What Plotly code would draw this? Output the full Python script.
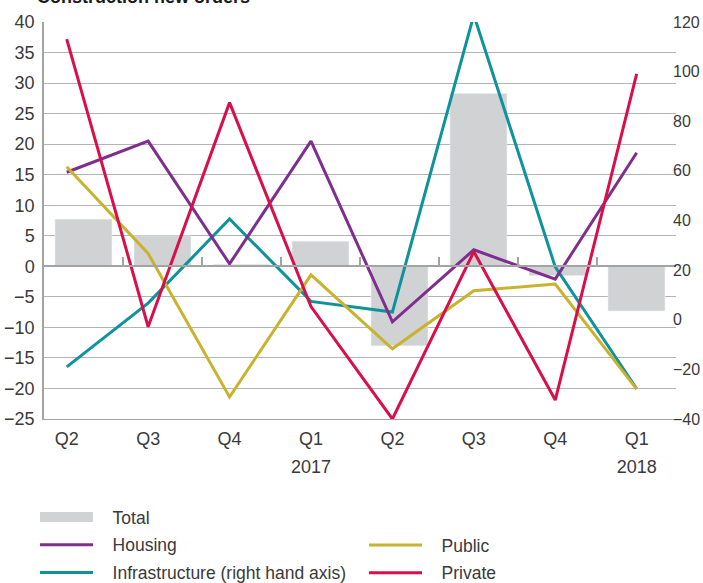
import plotly.graph_objects as go

cats = ["2016Q2", "2016Q3", "2016Q4", "2017Q1", "2017Q2", "2017Q3", "2017Q4", "2018Q1"]
quarter_labels = ["Q2", "Q3", "Q4", "Q1", "Q2", "Q3", "Q4", "Q1"]
year_cats = ["2017Q1", "2018Q1"]
year_labels = ["2017", "2018"]

total = [7.7, 5.0, 0.3, 4.1, -13.0, 28.3, -1.5, -7.3]
housing = [15.4, 20.5, 0.4, 20.5, -9.1, 2.7, -2.1, 18.6]
public = [16.3, 2.1, -21.4, -1.4, -13.5, -4.0, -2.9, -20.1]
private = [37.2, -9.9, 26.8, -6.6, -25.0, 2.4, -21.9, 31.5]
infrastructure = [-19.0, 6.7, 40.6, 7.4, 3.1, 122.8, 21.3, -27.8]

C_GRAY = "#d1d2d4"
C_PURPLE = "#7e2f8e"
C_TEAL = "#0e939c"
C_YELLOW = "#c8b22e"
C_RED = "#d90f4a"
GRID = "#b4b4b4"
AXIS = "#a3a3a3"
TXT = "#3a3a3a"
FONT = "Liberation Sans, Arial, sans-serif"
PAD = "\u00a0\u00a0\u00a0"
LFS = 17.5

fig = go.Figure()

fig.add_trace(go.Bar(x=cats, y=total, marker_color=C_GRAY, xaxis="x", yaxis="y",
                     showlegend=False, name="Total"))
# legend swatch for Total
fig.add_trace(go.Scatter(x=[None], y=[None], mode="lines", line=dict(color=C_GRAY, width=12),
                         name=PAD + "Total", xaxis="x2", yaxis="y3", legend="legend",
                         legendgroup="g1"))
fig.add_trace(go.Scatter(x=cats, y=housing, mode="lines", line=dict(color=C_PURPLE, width=3),
                         name=PAD + "Housing", xaxis="x2", yaxis="y3", legend="legend",
                         legendgroup="g2"))
fig.add_trace(go.Scatter(x=cats, y=infrastructure, mode="lines", line=dict(color=C_TEAL, width=3),
                         name=PAD + "Infrastructure (right hand axis)", xaxis="x2", yaxis="y2",
                         legend="legend", legendgroup="g3"))
fig.add_trace(go.Scatter(x=cats, y=public, mode="lines", line=dict(color=C_YELLOW, width=3),
                         name=PAD + "Public", xaxis="x2", yaxis="y3", legend="legend2",
                         legendgroup="g4"))
fig.add_trace(go.Scatter(x=cats, y=private, mode="lines", line=dict(color=C_RED, width=3),
                         name=PAD + "Private", xaxis="x2", yaxis="y3", legend="legend2",
                         legendgroup="g5"))

fig.update_layout(
    width=703, height=583,
    margin=dict(l=44, r=27, t=22, b=164, autoexpand=False),
    paper_bgcolor="white", plot_bgcolor="white",
    font=dict(family=FONT, size=18, color=TXT),
    bargap=0.28,
    xaxis=dict(type="category", categoryarray=cats, range=[-0.5, 7.5], domain=[0, 1],
               anchor="free", position=25 / 65, showline=True, linecolor=AXIS, linewidth=1.5,
               ticks="inside", tickson="boundaries", ticklen=9, tickcolor=AXIS, tickwidth=1.5,
               showticklabels=False, showgrid=False, zeroline=False),
    xaxis2=dict(type="category", categoryarray=cats, range=[-0.279, 7.483], overlaying="x",
                anchor="y", side="bottom", showgrid=False, zeroline=False, showline=True,
                linecolor=AXIS, linewidth=1, ticks="", tickvals=cats, ticktext=quarter_labels,
                ticklabelstandoff=3, tickfont=dict(size=18, color=TXT)),
    xaxis3=dict(type="category", categoryarray=cats, range=[-0.279, 7.483], overlaying="x",
                anchor="y", side="bottom", showgrid=False, zeroline=False, showline=False,
                ticks="", tickvals=year_cats, ticktext=year_labels,
                ticklabelstandoff=35, tickfont=dict(size=18, color=TXT)),
    yaxis=dict(range=[-25, 40], dtick=5, tick0=0, showgrid=True, gridcolor=GRID, gridwidth=1,
               showline=True, linecolor=AXIS, linewidth=1.5, zeroline=False, ticks="",
               ticklabelstandoff=4, tickfont=dict(size=18, color=TXT), domain=[0, 1]),
    yaxis2=dict(range=[-40, 120], dtick=20, tick0=0, overlaying="y", side="right", anchor="x2",
                showgrid=False, showline=False, zeroline=False, ticks="", ticklabelstandoff=-4,
                tickfont=dict(size=16, color=TXT)),
    yaxis3=dict(range=[-25, 40], overlaying="y", visible=False),
    legend=dict(orientation="v", x=(35 - 44) / 632, xanchor="left", y=(419 - 499) / 397,
                yanchor="top", itemwidth=53, tracegroupgap=2, bgcolor="rgba(0,0,0,0)",
                font=dict(size=LFS, color=TXT), traceorder="grouped"),
    legend2=dict(orientation="v", x=(364 - 44) / 632, xanchor="left", y=(419 - 527) / 397,
                 yanchor="top", itemwidth=53, tracegroupgap=2, bgcolor="rgba(0,0,0,0)",
                 font=dict(size=LFS, color=TXT), traceorder="grouped"),
    annotations=[dict(text="<b>Construction new orders</b>", xref="paper", yref="paper",
                      x=(35 - 44) / 632, y=(419 + 2.7) / 397, xanchor="left", yanchor="middle",
                      showarrow=False, font=dict(size=18, color="#1a1a1a", family=FONT))],
)
# dummy trace so xaxis3 renders its year labels
fig.add_trace(go.Scatter(x=[cats[0]], y=[None], xaxis="x3", yaxis="y3", showlegend=False,
                         hoverinfo="skip", mode="lines"))

fig.write_html("out.html")
